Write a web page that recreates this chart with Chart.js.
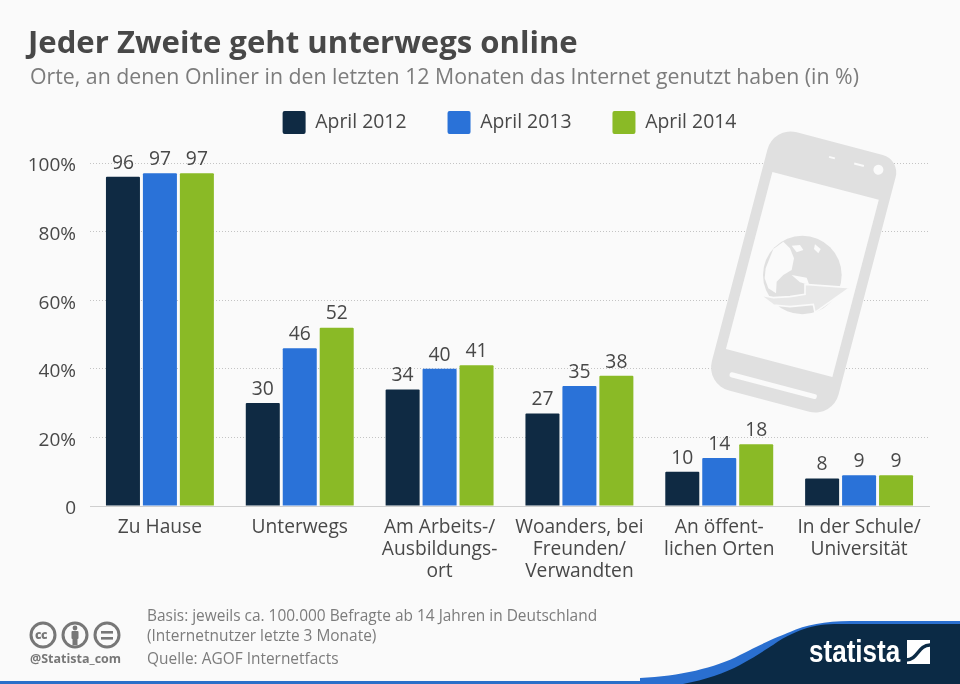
<!DOCTYPE html>
<html lang="de"><head><meta charset="utf-8">
<script src="https://cdn.jsdelivr.net/npm/chart.js@4"></script>
<style>
html,body{margin:0;padding:0;background:#fafafa;overflow:hidden}
#wrap{position:relative;width:960px;height:684px;font-family:"Open Sans",sans-serif;overflow:hidden}
#wrap canvas{position:absolute;left:0;top:0}
.t{position:absolute;white-space:nowrap}
svg{position:absolute;left:0;top:0}
</style></head><body>
<div id="wrap">
<svg width="960" height="684" viewBox="0 0 960 684">
  <rect x="0" y="681" width="960" height="3" fill="#2a6fc9"/>
  <path d="M640 678 C680 676 715 668 740 655 C765 642 780 636 790 632 C805 625 825 621 850 621 L960 621 L960 684 L640 684 Z" fill="#2a6fd0"/>
  <path d="M683 684 C705 680 725 673 740 665 C755 657 765 650 773 645 C785 636 800 630 807 628 C820 624 830 624 845 624 L960 624 L960 684 Z" fill="#0b2a45"/>
  <rect x="907" y="640" width="23" height="24" fill="#fff"/>
  <path d="M906 660 C918 660 918 645 930 645" fill="none" stroke="#0b2a45" stroke-width="3.5"/>
  <g fill="none" stroke="#777" stroke-width="3">
    <circle cx="43" cy="635" r="12"/><circle cx="75" cy="635" r="12"/><circle cx="107" cy="635" r="12"/>
  </g>
  <g fill="#777">
    <circle cx="75" cy="628" r="2.4"/><rect x="71.5" y="631" width="7" height="8" rx="1"/><rect x="72.5" y="638" width="5" height="7"/>
    <rect x="101" y="631" width="12" height="2.6"/><rect x="101" y="637" width="12" height="2.6"/>
  </g>
</svg>
<canvas id="c" width="960" height="684"></canvas>
<div class="t" style="left:28px;top:19px;font-size:31.1px;font-weight:700;color:#484848;line-height:44px">Jeder Zweite geht unterwegs online</div>
<div class="t" style="left:30px;top:61px;font-size:21.3px;color:#7c7c7c;line-height:30px">Orte, an denen Onliner in den letzten 12 Monaten das Internet genutzt haben (in %)</div>
<div class="t" style="left:147px;top:605px;font-size:15.45px;color:#7c7c7c;line-height:20px">Basis: jeweils ca. 100.000 Befragte ab 14 Jahren in Deutschland</div>
<div class="t" style="left:147px;top:625px;font-size:15.45px;color:#7c7c7c;line-height:20px">(Internetnutzer letzte 3 Monate)</div>
<div class="t" style="left:147px;top:648px;font-size:15.45px;color:#7c7c7c;line-height:20px">Quelle: AGOF Internetfacts</div>
<div class="t" style="left:30px;top:651px;font-size:12.5px;font-weight:700;color:#777;line-height:16px">@Statista_com</div>
<div class="t" style="left:35px;top:626px;font-size:12px;font-weight:800;color:#777;line-height:18px;letter-spacing:-.5px">cc</div>
<div class="t" style="left:809px;top:632px;font-family:'Liberation Sans',sans-serif;font-size:31px;font-weight:700;color:#fff;line-height:40px;transform:scaleX(.84);transform-origin:left">statista</div>
</div>
<script>
const categories=[["Zu Hause"],["Unterwegs"],["Am Arbeits-/","Ausbildungs-","ort"],["Woanders, bei","Freunden/","Verwandten"],["An öffent-","lichen Orten"],["In der Schule/","Universität"]];
const seriesNames=["April 2012","April 2013","April 2014"];
const april2012=[96,30,34,27,10,8];
const april2013=[97,46,40,35,14,9];
const april2014=[97,52,41,38,18,9];
const seriesColors=["#0f2a43","#2a72d8","#8aba26"];
const TEXT="#484848";
const BG="#fafafa",GR="#e0e0e0";

function poly(c,p){c.beginPath();p.forEach((q,i)=>i?c.lineTo(q[0],q[1]):c.moveTo(q[0],q[1]));c.closePath();}
const phone={id:"phone",beforeDatasetsDraw(chart){
  const c=chart.ctx;c.save();
  c.translate(803,272);c.rotate(14.7*Math.PI/180);
  c.fillStyle=GR;c.beginPath();c.roundRect(-65.5,-133.5,131,267,[24,18,24,24]);c.fill();
  c.fillStyle=BG;c.fillRect(-55,-89,110,183);
  c.beginPath();c.roundRect(-45,115,90,5,2);c.fill();
  c.beginPath();c.arc(47,-118,5,0,7);c.fill();
  c.fillRect(22,-119,10,2);c.fillRect(-4,-119,6,2);
  c.restore();
  c.save();c.translate(750,225);c.scale(1/3,1/3);
  c.fillStyle=GR;c.beginPath();c.arc(157,150,118,0,7);c.fill();
  c.fillStyle=BG;
  poly(c,[[47,130],[70,72],[100,50],[120,70],[132,100],[125,135],[100,150],[80,170],[78,205],[55,190],[44,160]]);c.fill();
  poly(c,[[125,150],[170,158],[178,180],[150,172]]);c.fill();
  poly(c,[[125,62],[150,60],[160,75],[140,82]]);c.fill();
  poly(c,[[195,58],[212,72],[205,85],[192,72]]);c.fill();
  poly(c,[[30,210],[70,218],[120,215],[165,208],[165,178],[300,188],[195,262],[190,238],[120,245],[70,240]]);
  c.fillStyle="#e8e8e8";c.fill();c.strokeStyle=BG;c.lineWidth=5;c.stroke();
  c.restore();
}};
const valueLabels={id:"valueLabels",afterDatasetsDraw(chart){
  const c=chart.ctx;c.save();c.font='19.3px "Open Sans"';c.fillStyle=TEXT;c.textAlign="center";c.textBaseline="bottom";
  chart.data.datasets.forEach((d,i)=>{chart.getDatasetMeta(i).data.forEach((b,j)=>{c.fillText(d.data[j],b.x,b.y-4);});});
  c.restore();
}};
new Chart(document.getElementById("c"),{
  type:"bar",
  data:{labels:categories,datasets:[april2012,april2013,april2014].map((v,i)=>({label:seriesNames[i],data:v,backgroundColor:seriesColors[i],borderRadius:{topLeft:1,topRight:1}}))},
  options:{
    responsive:false,animation:false,devicePixelRatio:1,
    layout:{padding:{top:70,right:31,left:0,bottom:0}},
    datasets:{bar:{categoryPercentage:.793,barPercentage:.92}},
    plugins:{
      tooltip:{enabled:false},
      legend:{display:true,position:"top",fullSize:false,labels:{boxWidth:23,boxHeight:23,padding:41,color:TEXT,useBorderRadius:true,borderRadius:2,font:{family:"Open Sans",size:19.4}}}
    },
    scales:{
      x:{afterFit(s){s.height=178;},grid:{display:false},border:{color:"#cfcfcf",width:1},
        ticks:{color:TEXT,padding:3,maxRotation:0,autoSkip:false,font:{family:"Open Sans",size:19.2,lineHeight:1.14}}},
      y:{min:0,max:105.54,afterFit(s){s.width=90;},border:{display:false,dash:[1,2]},
        grid:{color:"#c4c4c4",lineWidth:1,drawTicks:false,tickLength:0},
        ticks:{stepSize:20,includeBounds:false,padding:14,labelOffset:3,color:TEXT,font:{family:"Open Sans",size:19},callback:v=>v===0?"0":v+"%"}}
    }
  },
  plugins:[phone,valueLabels]
});
</script>
</body></html>
